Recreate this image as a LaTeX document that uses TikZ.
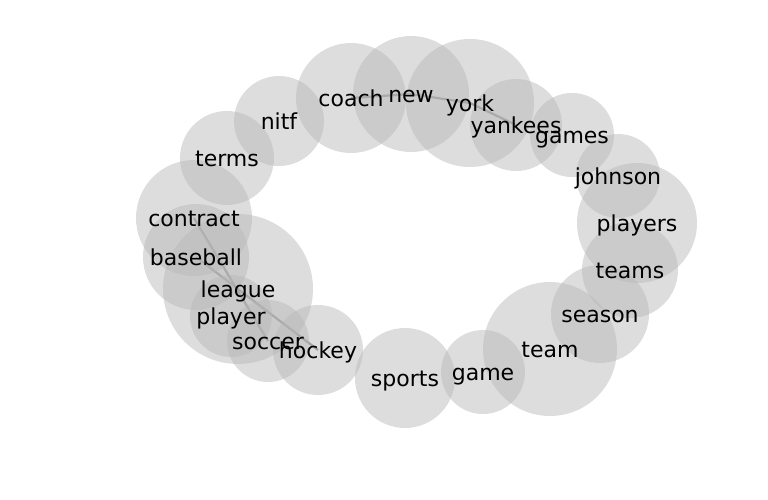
\documentclass[tikz,border=0pt]{standalone}
\usepackage{fontspec}
\setmainfont{DejaVu Sans}
\definecolor{nodegray}{RGB}{183,183,183}
\definecolor{edgegray}{RGB}{100,100,100}
\tikzset{
  bub/.style={circle, fill=nodegray, fill opacity=0.47, draw=none, inner sep=0pt, minimum size=#1},
  lbl/.style={font=\fontsize{22}{26}\selectfont, text=black, inner sep=0pt, text height=22pt, text depth=5pt},
  edge/.style={draw=edgegray, draw opacity=0.75, line width=2.2pt}
}
\begin{document}
\begin{tikzpicture}[x=1pt,y=-1pt]
\useasboundingbox (0,0) rectangle (768,500);
% node centres
\coordinate (coach) at (351,98);
\coordinate (new) at (411,94);
\coordinate (york) at (470,103);
\coordinate (yankees) at (516,125);
\coordinate (games) at (572,135);
\coordinate (johnson) at (618,176);
\coordinate (players) at (637,223);
\coordinate (teams) at (630,270);
\coordinate (season) at (600,314);
\coordinate (team) at (550,349);
\coordinate (game) at (483,372);
\coordinate (sports) at (405,378);
\coordinate (hockey) at (318,350);
\coordinate (soccer) at (268,341);
\coordinate (player) at (231,316);
\coordinate (league) at (238,289);
\coordinate (baseball) at (196,257);
\coordinate (contract) at (194,218);
\coordinate (terms) at (227,158);
\coordinate (nitf) at (279,121);
% edges
\draw[edge] (coach) -- (new);
\draw[edge] (new) -- (york);
\draw[edge] (york) -- (yankees);
\draw[edge] (contract) -- (soccer);
\draw[edge] (baseball) -- (hockey);
% bubbles
\node[bub=110pt] (cCoach) at (coach) {};
\node[bub=116pt] (cNew) at (new) {};
\node[bub=128pt] (cYork) at (york) {};
\node[bub=92pt] (cYankees) at (yankees) {};
\node[bub=84pt] (cGames) at (games) {};
\node[bub=84pt] (cJohnson) at (johnson) {};
\node[bub=120pt] (cPlayers) at (players) {};
\node[bub=96pt] (cTeams) at (teams) {};
\node[bub=98pt] (cSeason) at (season) {};
\node[bub=134pt] (cTeam) at (team) {};
\node[bub=84pt] (cGame) at (game) {};
\node[bub=100pt] (cSports) at (sports) {};
\node[bub=90pt] (cHockey) at (hockey) {};
\node[bub=82pt] (cSoccer) at (soccer) {};
\node[bub=82pt] (cPlayer) at (player) {};
\node[bub=150pt] (cLeague) at (league) {};
\node[bub=106pt] (cBaseball) at (baseball) {};
\node[bub=116pt] (cContract) at (contract) {};
\node[bub=94pt] (cTerms) at (terms) {};
\node[bub=90pt] (cNitf) at (nitf) {};
% labels
\node[lbl] (tCoach) at (coach) {coach};
\node[lbl] (tNew) at (new) {new};
\node[lbl] (tYork) at (york) {york};
\node[lbl] (tYankees) at (yankees) {yankees};
\node[lbl] (tGames) at (games) {games};
\node[lbl] (tJohnson) at (johnson) {johnson};
\node[lbl] (tPlayers) at (players) {players};
\node[lbl] (tTeams) at (teams) {teams};
\node[lbl] (tSeason) at (season) {season};
\node[lbl] (tTeam) at (team) {team};
\node[lbl] (tGame) at (game) {game};
\node[lbl] (tSports) at (sports) {sports};
\node[lbl] (tHockey) at (hockey) {hockey};
\node[lbl] (tSoccer) at (soccer) {soccer};
\node[lbl] (tPlayer) at (player) {player};
\node[lbl] (tLeague) at (league) {league};
\node[lbl] (tBaseball) at (baseball) {baseball};
\node[lbl] (tContract) at (contract) {contract};
\node[lbl] (tTerms) at (terms) {terms};
\node[lbl] (tNitf) at (nitf) {nitf};
\end{tikzpicture}
\end{document}
